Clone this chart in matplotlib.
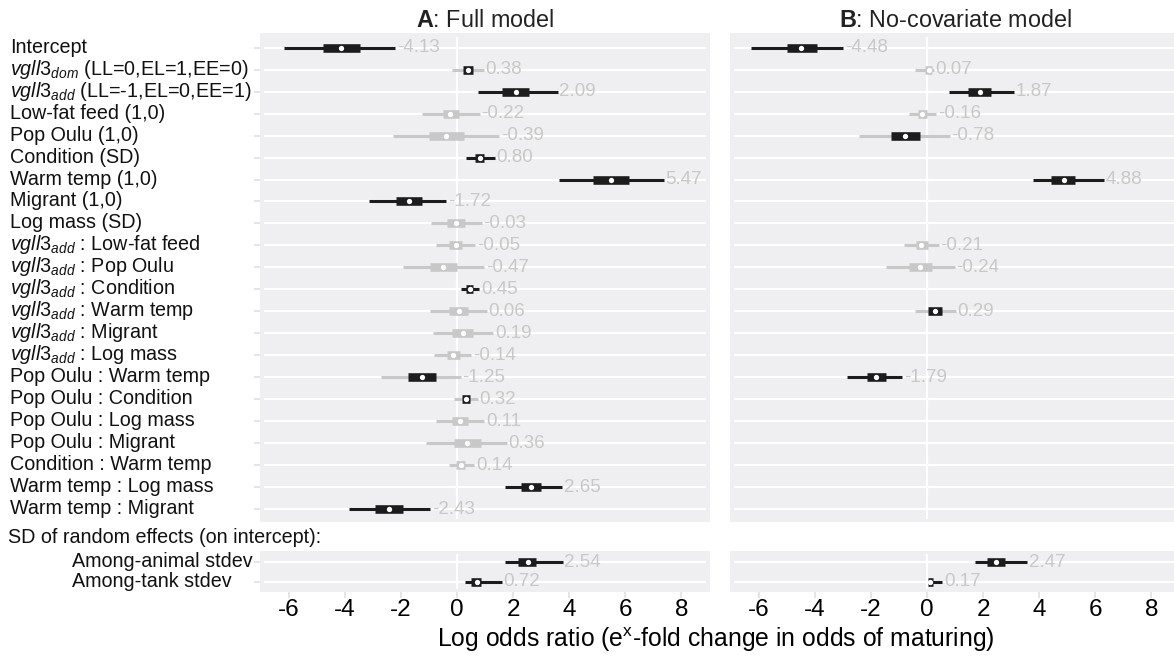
import numpy as np
import matplotlib
matplotlib.use('Agg')
import matplotlib.pyplot as plt
from matplotlib.transforms import blended_transform_factory, offset_copy

plt.rcParams['font.family'] = ['Liberation Sans', 'DejaVu Sans']
plt.rcParams['mathtext.fontset'] = 'custom'
plt.rcParams['mathtext.rm'] = 'Liberation Sans'
plt.rcParams['mathtext.it'] = 'Liberation Sans:italic'
plt.rcParams['mathtext.bf'] = 'Liberation Sans:bold'
plt.rcParams['axes.unicode_minus'] = False

nan = np.nan

terms = ['Intercept',
         r'$\it{vgll3}_{\it{dom}}$ (LL=0,EL=1,EE=0)',
         r'$\it{vgll3}_{\it{add}}$ (LL=-1,EL=0,EE=1)',
         'Low-fat feed (1,0)',
         'Pop Oulu (1,0)',
         'Condition (SD)',
         'Warm temp (1,0)',
         'Migrant (1,0)',
         'Log mass (SD)',
         r'$\it{vgll3}_{\it{add}}$ : Low-fat feed',
         r'$\it{vgll3}_{\it{add}}$ : Pop Oulu',
         r'$\it{vgll3}_{\it{add}}$ : Condition',
         r'$\it{vgll3}_{\it{add}}$ : Warm temp',
         r'$\it{vgll3}_{\it{add}}$ : Migrant',
         r'$\it{vgll3}_{\it{add}}$ : Log mass',
         'Pop Oulu : Warm temp',
         'Pop Oulu : Condition',
         'Pop Oulu : Log mass',
         'Pop Oulu : Migrant',
         'Condition : Warm temp',
         'Warm temp : Log mass',
         'Warm temp : Migrant']

# A: full model
A_med = [-4.14, 0.39, 2.10, -0.23, -0.38, 0.81, 5.48, -1.71, -0.02, -0.05, -0.48,
         0.45, 0.06, 0.20, -0.13, -1.25, 0.33, 0.12, 0.37, 0.14, 2.65, -2.42]
A_lo95 = [-6.18, -0.16, 0.75, -1.23, -2.28, 0.33, 3.65, -3.13, -0.92, -0.74, -1.93,
          0.15, -0.95, -0.87, -0.83, -2.70, -0.12, -0.75, -1.09, -0.30, 1.72, -3.84]
A_hi95 = [-2.20, 0.95, 3.59, 0.81, 1.50, 1.34, 7.37, -0.38, 0.89, 0.65, 0.98,
          0.80, 1.07, 1.30, 0.51, 0.14, 0.75, 0.98, 1.78, 0.62, 3.74, -0.95]
A_lo50 = [-4.78, 0.20, 1.60, -0.51, -1.01, 0.66, 4.85, -2.16, -0.36, -0.27, -0.95,
          0.33, -0.30, -0.18, -0.36, -1.75, 0.19, -0.18, -0.12, -0.02, 2.29, -2.91]
A_hi50 = [-3.45, 0.57, 2.57, 0.09, 0.25, 0.95, 6.12, -1.25, 0.30, 0.19, 0.00,
          0.57, 0.41, 0.57, 0.12, -0.75, 0.47, 0.41, 0.86, 0.30, 2.99, -1.93]
A_mean = [-4.13, 0.38, 2.09, -0.22, -0.39, 0.80, 5.47, -1.72, -0.03, -0.05, -0.47,
          0.45, 0.06, 0.19, -0.14, -1.25, 0.32, 0.11, 0.36, 0.14, 2.65, -2.43]

# B: no-covariate model
B_med = [-4.48, 0.06, 1.88, -0.16, -0.77, nan, 4.89, nan, nan, -0.22, -0.24,
         nan, 0.30, nan, nan, -1.80, nan, nan, nan, nan, nan, nan]
B_lo95 = [-6.26, -0.41, 0.77, -0.64, -2.43, nan, 3.78, nan, nan, -0.83, -1.47,
          nan, -0.41, nan, nan, -2.84, nan, nan, nan, nan, nan, nan]
B_hi95 = [-2.99, 0.24, 3.09, 0.34, 0.81, nan, 6.30, nan, nan, 0.42, 0.99,
          nan, 1.02, nan, nan, -0.88, nan, nan, nan, nan, nan, nan]
B_lo50 = [-4.99, -0.08, 1.48, -0.32, -1.29, nan, 4.43, nan, nan, -0.38, -0.64,
          nan, 0.04, nan, nan, -2.12, nan, nan, nan, nan, nan, nan]
B_hi50 = [-3.92, 0.19, 2.27, 0.00, -0.24, nan, 5.28, nan, nan, 0.04, 0.18,
          nan, 0.53, nan, nan, -1.45, nan, nan, nan, nan, nan, nan]
B_mean = [-4.48, 0.07, 1.87, -0.16, -0.78, nan, 4.88, nan, nan, -0.21, -0.24,
          nan, 0.29, nan, nan, -1.79, nan, nan, nan, nan, nan, nan]

# random effects
sd_terms = ['Among-animal stdev', 'Among-tank stdev']
A_sd_med = [2.55, 0.71]
A_sd_lo95 = [1.72, 0.27]
A_sd_hi95 = [3.77, 1.60]
A_sd_lo50 = [2.17, 0.51]
A_sd_hi50 = [2.83, 0.86]
A_sd_mean = [2.54, 0.72]
B_sd_med = [2.47, 0.12]
B_sd_lo95 = [1.73, 0.02]
B_sd_hi95 = [3.58, 0.55]
B_sd_lo50 = [2.14, 0.05]
B_sd_hi50 = [2.77, 0.22]
B_sd_mean = [2.47, 0.17]

xticks = [-6, -4, -2, 0, 2, 4, 6, 8]

W, H = 1174, 656
dark = '#1c1c1c'
light = '#c8c8c8'
bg = '#efeff1'
tickc = '#dedede'

fig = plt.figure(figsize=(W / 100, H / 100), dpi=100)


def box(x0, x1, y0, y1):
    return [x0 / W, 1 - y1 / H, (x1 - x0) / W, (y1 - y0) / H]


axA = fig.add_axes(box(260, 710, 33.3, 522))
axB = fig.add_axes(box(730, 1180, 33.3, 522))
axA2 = fig.add_axes(box(260, 710, 551, 592.3))
axB2 = fig.add_axes(box(730, 1180, 551, 592.3))

XL = (-7.02, 9.02)


def draw(ax, med, lo95, hi95, lo50, hi50, mean, n, ylim):
    ax.set_facecolor(bg)
    ax.set_xlim(*XL)
    ax.set_ylim(*ylim)
    for s in ax.spines.values():
        s.set_visible(False)
    rows = np.arange(1, n + 1)
    ax.hlines(rows, XL[0] + 0.13, XL[1] - 0.13, color='white', lw=1.6, zorder=0.5)
    ax.vlines(0, ylim[1] + 0.15, ylim[0] - 0.15, color='white', lw=1.6, zorder=0.5)
    trans = offset_copy(ax.transData, fig=fig, y=-4.5, units='dots')
    for i in range(n):
        if np.isnan(med[i]):
            continue
        y = i + 1
        c_out = dark if (lo95[i] > 0 or hi95[i] < 0) else light
        c_in = dark if (lo50[i] > 0 or hi50[i] < 0) else light
        ax.plot([lo95[i], hi95[i]], [y, y], color=c_out, lw=2.2,
                solid_capstyle='butt', zorder=2)
        ax.plot([lo50[i], hi50[i]], [y, y], color=c_in, lw=6.2,
                solid_capstyle='butt', zorder=3)
        ax.plot(med[i], y, 'o', color='white', ms=3.8, mec='none', zorder=4)
        ax.text(hi95[i] + 0.06, y, f'{mean[i]:.2f}', color=light, fontsize=13.5,
                ha='left', va='baseline', transform=trans, zorder=5)


n = len(terms)
draw(axA, A_med, A_lo95, A_hi95, A_lo50, A_hi50, A_mean, n, (n + 0.59, 0.345))
draw(axB, B_med, B_lo95, B_hi95, B_lo50, B_hi50, B_mean, n, (n + 0.59, 0.345))
draw(axA2, A_sd_med, A_sd_lo95, A_sd_hi95, A_sd_lo50, A_sd_hi50, A_sd_mean, 2, (2.55, 0.42))
draw(axB2, B_sd_med, B_sd_lo95, B_sd_hi95, B_sd_lo50, B_sd_hi50, B_sd_mean, 2, (2.55, 0.42))

for ax in [axA, axB]:
    ax.set_xticks([])
for ax in [axB, axB2]:
    ax.set_yticks([])
axA.set_yticks(np.arange(1, n + 1))
axA2.set_yticks([1, 2])
for ax in [axA, axA2]:
    ax.set_yticklabels([])
    ax.tick_params(axis='y', length=4.5, width=1.1, color=tickc)
for ax in [axA2, axB2]:
    ax.set_xticks(xticks)
    ax.set_xticklabels([str(t) for t in xticks])
    ax.tick_params(axis='x', length=4.5, width=1.1, color=tickc,
                   labelsize=17.5, labelcolor='black', pad=0.5)

# row labels
tA = offset_copy(blended_transform_factory(fig.transFigure, axA.transData),
                 fig=fig, y=-5, units='dots')
for i, lab in enumerate(terms):
    fig.text(10 / W, i + 1, lab, transform=tA, ha='left', va='baseline',
             fontsize=14.2, color='#111111')
tA2 = offset_copy(blended_transform_factory(fig.transFigure, axA2.transData),
                  fig=fig, y=-5, units='dots')
for i, lab in enumerate(sd_terms):
    fig.text(72 / W, i + 1, lab, transform=tA2, ha='left', va='baseline',
             fontsize=14.2, color='#111111')
fig.text(8 / W, 1 - 543 / H, 'SD of random effects (on intercept):', ha='left',
         va='baseline', fontsize=14.2, color='#111111')

# titles
fig.text(485 / W, 1 - 27.3 / H, r'$\bf{A}$: Full model', ha='center', va='baseline',
         fontsize=16.8, color='#222222')
fig.text(955 / W, 1 - 27.3 / H, r'$\bf{B}$: No-covariate model', ha='center',
         va='baseline', fontsize=16.8, color='#222222')

fig.text(716 / W, 1 - 646.5 / H,
         r'Log odds ratio (e$^{\mathrm{x}}$-fold change in odds of maturing)',
         ha='center', va='baseline', fontsize=17.8, color='black')

fig.savefig('out.png', dpi=100)
